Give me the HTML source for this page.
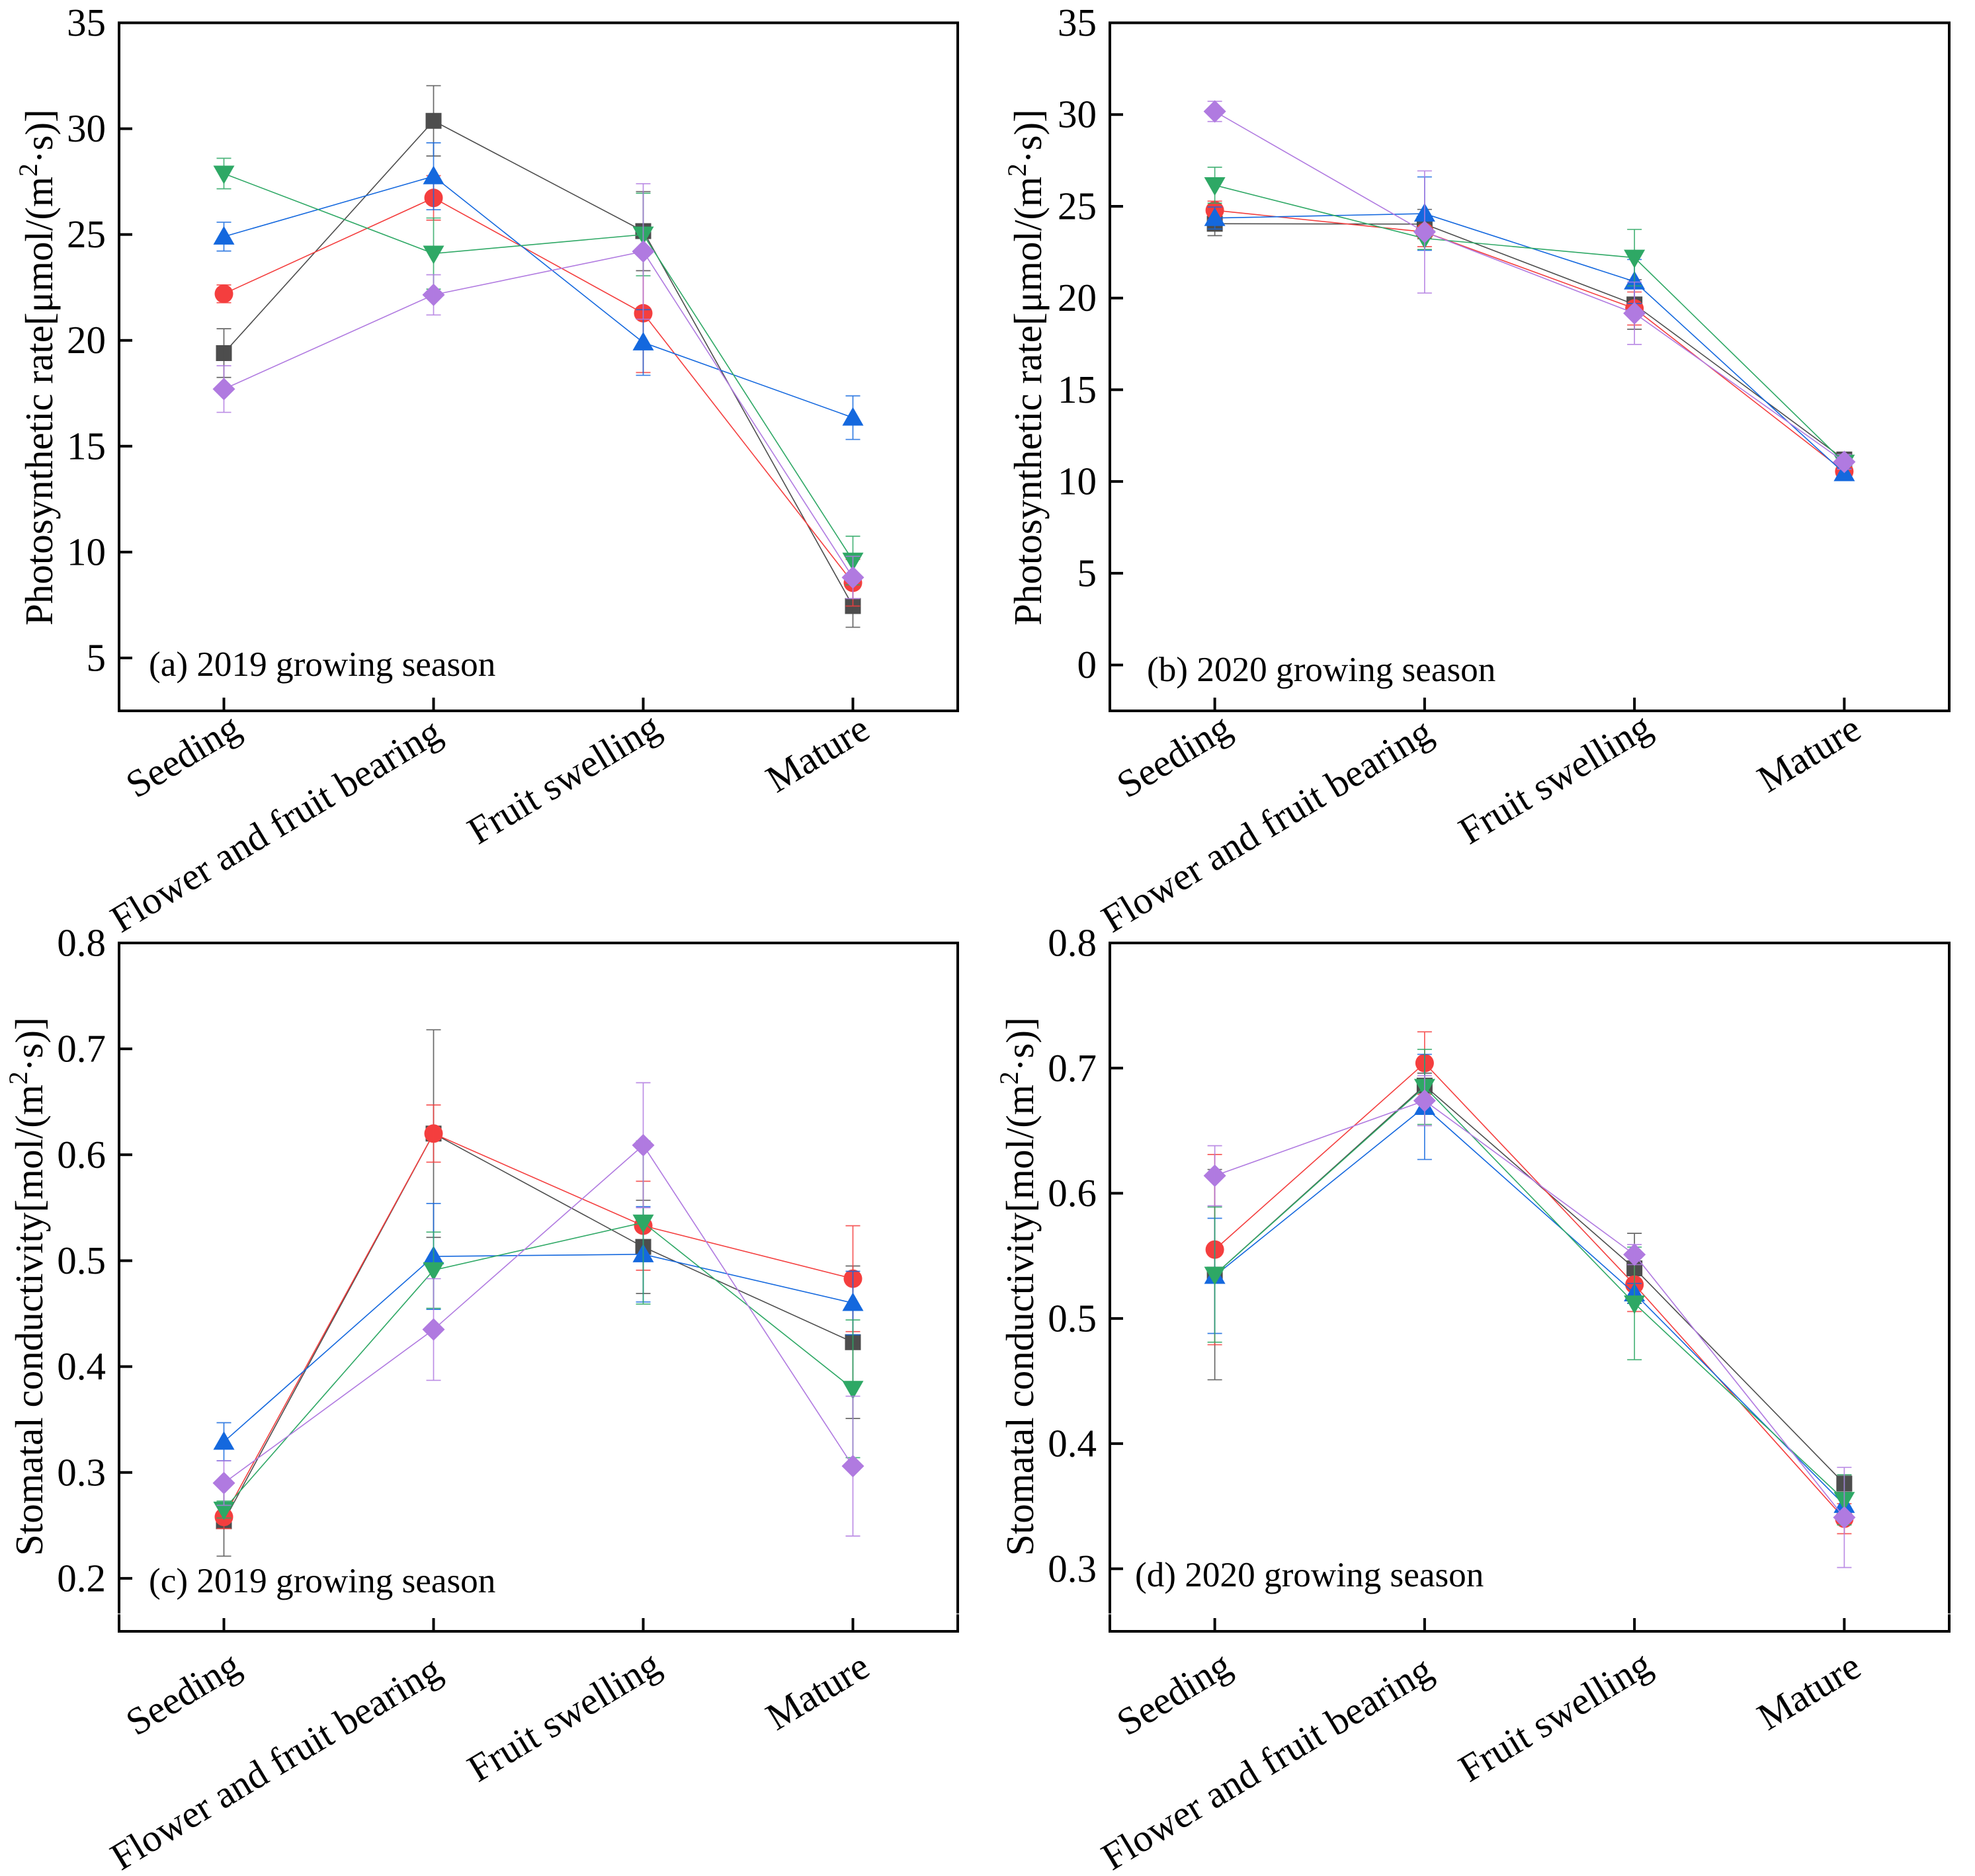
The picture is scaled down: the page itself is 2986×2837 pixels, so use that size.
<!DOCTYPE html>
<html lang="en">
<head>
<meta charset="utf-8">
<title>Photosynthetic rate and stomatal conductivity by growth stage</title>
<style>
  html, body { margin: 0; padding: 0; background: #fff; }
  svg { display: block; font-family: "Liberation Serif", "Times New Roman", serif; fill: #000; }
  .axis-title { font-size: 59px; }
  .panel-label { font-size: 53.2px; }
</style>
</head>
<body>
<svg id="figure" xmlns="http://www.w3.org/2000/svg" width="2986" height="2837" viewBox="0 0 2986 2837">
  <rect x="0" y="0" width="2986" height="2837" fill="#ffffff"/>

  <g id="panel-a">
    <text class="axis-title" transform="translate(79 946) rotate(-90)">Photosynthetic rate[μmol/(m<tspan font-size="40" dy="-23">2</tspan><tspan dy="23">·s)]</tspan></text>
    <text class="panel-label" x="225" y="1022">(a) 2019 growing season</text>
  </g>
  <g id="panel-b">
    <text class="axis-title" transform="translate(1574 946) rotate(-90)">Photosynthetic rate[μmol/(m<tspan font-size="40" dy="-23">2</tspan><tspan dy="23">·s)]</tspan></text>
    <text class="panel-label" x="1734" y="1030">(b) 2020 growing season</text>
  </g>
  <g id="panel-c">
    <text class="axis-title" transform="translate(64 2353) rotate(-90)">Stomatal conductivity[mol/(m<tspan font-size="40" dy="-23">2</tspan><tspan dy="23">·s)]</tspan></text>
    <text class="panel-label" x="225" y="2408">(c) 2019 growing season</text>
  </g>
  <g id="panel-d">
    <text class="axis-title" transform="translate(1562 2353) rotate(-90)">Stomatal conductivity[mol/(m<tspan font-size="40" dy="-23">2</tspan><tspan dy="23">·s)]</tspan></text>
    <text class="panel-label" x="1716" y="2399">(d) 2020 growing season</text>
  </g>
</svg>

<script>
const categories = ['Seeding', 'Flower and fruit bearing', 'Fruit swelling', 'Mature'];

const aYTicks = [5, 10, 15, 20, 25, 30, 35];
const bYTicks = [0, 5, 10, 15, 20, 25, 30, 35];
const cYTicks = ['0.2', '0.3', '0.4', '0.5', '0.6', '0.7', '0.8'];
const dYTicks = ['0.3', '0.4', '0.5', '0.6', '0.7', '0.8'];

const aBlack = [19.4, 30.37, 25.16, 7.45];
const aBlackErr = [1.15, 1.66, 1.87, 1.0];
const aRed = [22.2, 26.73, 21.28, 8.55];
const aRedErr = [0.42, 1.05, 2.8, 1.1];
const aBlue = [24.9, 27.75, 19.9, 16.35];
const aBlueErr = [0.68, 1.58, 1.55, 1.03];
const aGreen = [27.88, 24.1, 25.0, 9.6];
const aGreenErr = [0.72, 1.68, 1.95, 1.15];
const aPurple = [17.7, 22.15, 24.2, 8.8];
const aPurpleErr = [1.1, 0.95, 3.2, 1.0];

const bBlack = [24.05, 24.03, 19.65, 11.2];
const bBlackErr = [0.65, 0.8, 1.35, 0.3];
const bRed = [24.78, 23.6, 19.43, 10.55];
const bRedErr = [0.5, 0.8, 0.9, 0.3];
const bBlue = [24.36, 24.6, 20.9, 10.45];
const bBlueErr = [0.6, 2.0, 1.2, 0.25];
const bGreen = [26.15, 23.25, 22.2, 11.03];
const bGreenErr = [0.98, 0.6, 1.54, 0.2];
const bPurple = [30.17, 23.6, 19.17, 11.07];
const bPurpleErr = [0.55, 3.33, 1.7, 0.4];

const cBlack = [0.254, 0.62, 0.513, 0.423];
const cBlackErr = [0.033, 0.098, 0.044, 0.072];
const cRed = [0.258, 0.62, 0.533, 0.483];
const cRedErr = [0.011, 0.027, 0.042, 0.05];
const cBlue = [0.329, 0.504, 0.506, 0.46];
const cBlueErr = [0.018, 0.05, 0.045, 0.03];
const cGreen = [0.265, 0.491, 0.536, 0.379];
const cGreenErr = [0.008, 0.036, 0.077, 0.065];
const cPurple = [0.29, 0.435, 0.609, 0.306];
const cPurpleErr = [0.021, 0.048, 0.059, 0.066];

const dBlack = [0.535, 0.686, 0.54, 0.368];
const dBlackErr = [0.084, 0.01, 0.028, 0.007];
const dRed = [0.555, 0.704, 0.527, 0.34];
const dRedErr = [0.076, 0.025, 0.0215, 0.012];
const dBlue = [0.534, 0.669, 0.52, 0.351];
const dBlueErr = [0.046, 0.042, 0.008, 0.007];
const dGreen = [0.535, 0.685, 0.512, 0.355];
const dGreenErr = [0.054, 0.03, 0.045, 0.02];
const dPurple = [0.614, 0.674, 0.551, 0.341];
const dPurpleErr = [0.024, 0.02, 0.008, 0.04];

const SVG_NS = 'http://www.w3.org/2000/svg';
const seriesStyles = [
  { key: 'black', color: '#4d4d4d', shape: 'square' },
  { key: 'red', color: '#f43e3e', shape: 'circle' },
  { key: 'blue', color: '#1468de', shape: 'triangle-up' },
  { key: 'green', color: '#2ea865', shape: 'triangle-down' },
  { key: 'purple', color: '#b07ae0', shape: 'diamond' }
];
const panels = [
  { id: 'a', left: 180, right: 1448, top: 34.5, bottom: 1075, yMin: 2.5, yMax: 35, ticks: aYTicks,
    series: [[aBlack, aBlackErr], [aRed, aRedErr], [aBlue, aBlueErr], [aGreen, aGreenErr], [aPurple, aPurpleErr]] },
  { id: 'b', left: 1678, right: 2947, top: 34.5, bottom: 1075, yMin: -2.5, yMax: 35, ticks: bYTicks,
    series: [[bBlack, bBlackErr], [bRed, bRedErr], [bBlue, bBlueErr], [bGreen, bGreenErr], [bPurple, bPurpleErr]] },
  { id: 'c', left: 180, right: 1448, top: 1426, bottom: 2467, yMin: 0.15, yMax: 0.8, ticks: cYTicks,
    series: [[cBlack, cBlackErr], [cRed, cRedErr], [cBlue, cBlueErr], [cGreen, cGreenErr], [cPurple, cPurpleErr]] },
  { id: 'd', left: 1678, right: 2947, top: 1426, bottom: 2467, yMin: 0.25, yMax: 0.8, ticks: dYTicks,
    series: [[dBlack, dBlackErr], [dRed, dRedErr], [dBlue, dBlueErr], [dGreen, dGreenErr], [dPurple, dPurpleErr]] }
];

function make(tag, attrs, parent) {
  const node = document.createElementNS(SVG_NS, tag);
  for (const k in attrs) node.setAttribute(k, attrs[k]);
  parent.appendChild(node);
  return node;
}
function xScale(panel, index) {
  const step = (panel.right - panel.left) / categories.length;
  return panel.left + step * (index + 0.5);
}
function yScale(panel, value) {
  return panel.bottom - (Number(value) - panel.yMin) / (panel.yMax - panel.yMin) * (panel.bottom - panel.top);
}
function markerPath(shape, x, y) {
  if (shape === 'square') return `M${x-12} ${y-12}H${x+12}V${y+12}H${x-12}Z`;
  if (shape === 'circle') return `M${x-14} ${y}A14 14 0 1 0 ${x+14} ${y}A14 14 0 1 0 ${x-14} ${y}Z`;
  if (shape === 'triangle-up') return `M${x} ${y-16}L${x+16} ${y+12}H${x-16}Z`;
  if (shape === 'triangle-down') return `M${x} ${y+16}L${x+16} ${y-12}H${x-16}Z`;
  return `M${x} ${y-17}L${x+17} ${y}L${x} ${y+17}L${x-17} ${y}Z`;
}

function drawAxes(panel, group) {
  const frame = make('rect', { x: panel.left, y: panel.top, width: panel.right - panel.left, height: panel.bottom - panel.top, fill: 'none', stroke: '#000', 'stroke-width': 4 }, group);
  
  

  panel.ticks.forEach((tick) => {
    const y = yScale(panel, tick);
    const mark = make('line', { x1: panel.left, x2: panel.left + 20, y1: y, y2: y, stroke: '#000', 'stroke-width': 4 }, group);
    
    
    const label = make('text', { x: panel.left - 20, y: y + 19.5, 'text-anchor': 'end', 'font-size': 59 }, group);
    label.textContent = tick;
    
    
  });

  const labelDx = [29, 16, 30, 29];
  const labelDy = [36, 43, 35, 38];
  const lowerShift = panel.id === 'c' || panel.id === 'd' ? 26 : 0;
  categories.forEach((name, i) => {
    const x = xScale(panel, i);
    const mark = make('line', { x1: x, x2: x, y1: panel.bottom, y2: panel.bottom - 20, stroke: '#000', 'stroke-width': 4 }, group);
    
    
    const lx = x + labelDx[i];
    const ly = panel.bottom + labelDy[i] + lowerShift;
    const label = make('text', { transform: `translate(${lx} ${ly}) rotate(-31)`, 'text-anchor': 'end', 'font-size': 58.5 }, group);
    label.textContent = name;
    
    
  });

  if (lowerShift) {
    [panel.left, panel.right].forEach((sx) => {
      const notch = make('rect', { x: sx - 3, y: 2440, width: 6, height: 1.2, fill: '#fff' }, group);
      
      
    });
  }
}

function drawSeries(panel, group) {
  panel.series.forEach((pair, s) => {
    const values = pair[0];
    const errors = pair[1];
    const style = seriesStyles[s];
    const seriesGroup = make('g', {}, group);
    
    

    const pts = values.map((v, i) => xScale(panel, i) + ',' + yScale(panel, v)).join(' ');
    const line = make('polyline', { points: pts, fill: 'none', stroke: style.color, 'stroke-width': 1.6 }, seriesGroup);
    
    

    values.forEach((v, i) => {
      const x = xScale(panel, i);
      const y = yScale(panel, v);
      const marker = make('path', { d: markerPath(style.shape, x, y), fill: style.color }, seriesGroup);
      
      

      const yHigh = yScale(panel, v + errors[i]);
      const yLow = yScale(panel, v - errors[i]);
      const d = `M${x} ${yHigh}V${yLow}M${x-11} ${yHigh}H${x+11}M${x-11} ${yLow}H${x+11}`;
      const bar = make('path', { d: d, fill: 'none', stroke: style.color, 'stroke-width': 1.7, 'stroke-opacity': 0.85 }, seriesGroup);
      
      
    });
  });
}

panels.forEach((panel) => {
  const group = document.getElementById('panel-' + panel.id);
  drawAxes(panel, group);
  drawSeries(panel, group);
});
</script>
</body>
</html>
